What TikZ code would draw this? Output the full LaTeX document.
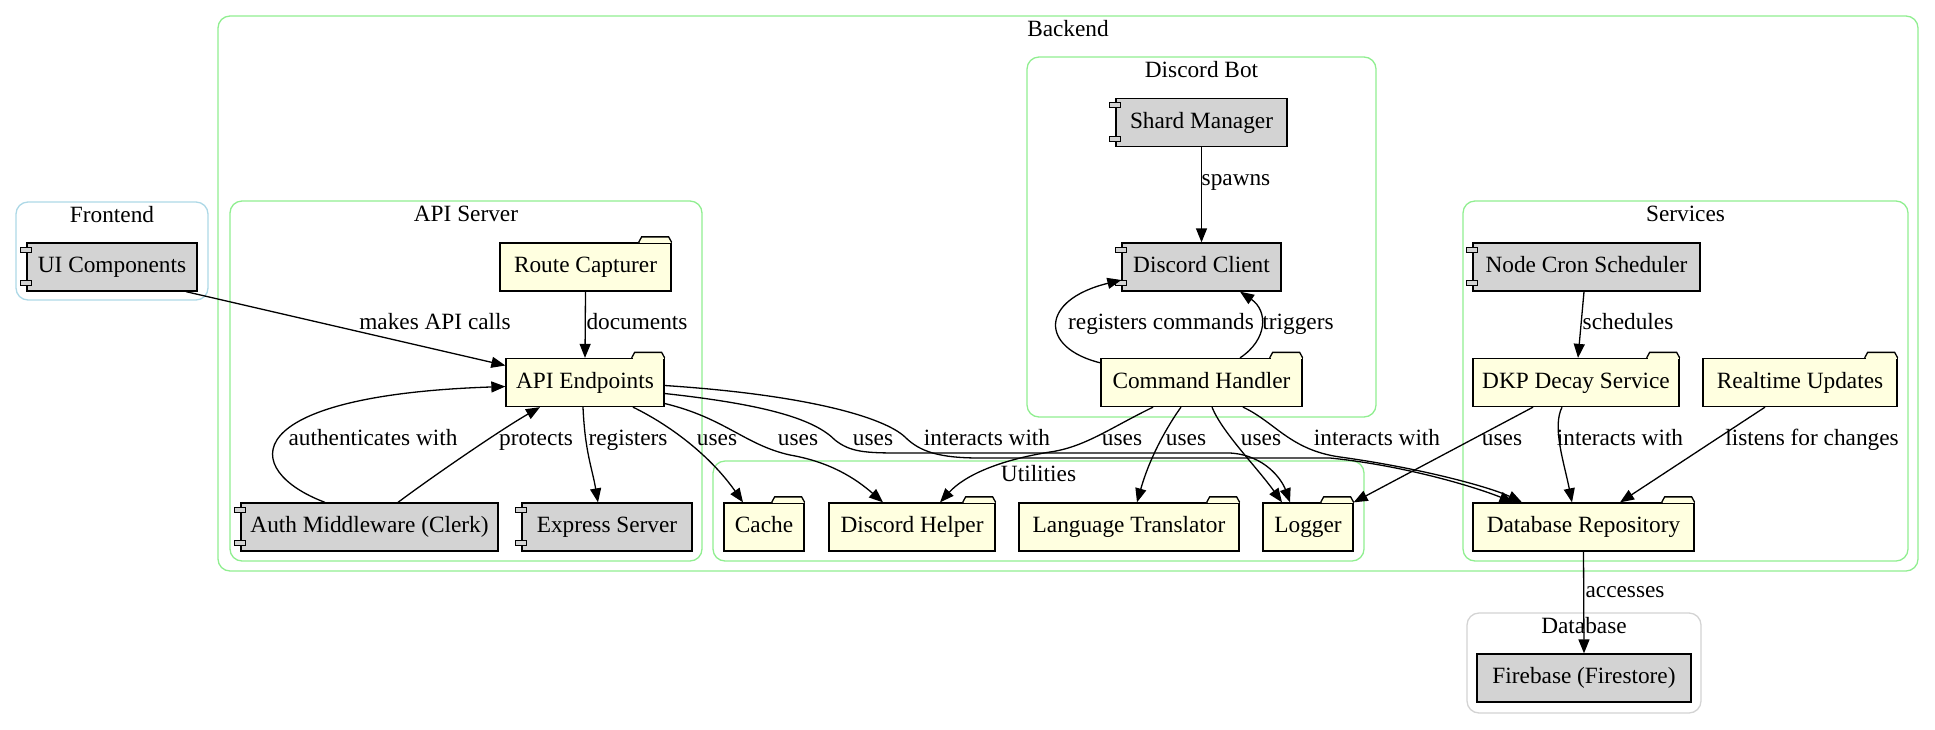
\documentclass[tikz,border=0pt]{standalone}
\usepackage{fontspec}
\setmainfont{Liberation Serif}
\usetikzlibrary{arrows.meta,fit}
\definecolor{compgray}{HTML}{D3D3D3}
\definecolor{foldyellow}{HTML}{FFFFE0}
\definecolor{clgreen}{HTML}{90EE90}
\definecolor{clblue}{HTML}{ADD8E6}
\definecolor{clgray}{HTML}{D3D3D3}
\newcommand{\dfont}{\fontsize{23.3pt}{28pt}\selectfont}
\newcommand{\comptabs}[1]{%
  \draw[tabline,fill=compgray] ([xshift=-5.5pt,yshift=-5pt]#1.north west) rectangle ++(11pt,-5pt);
  \draw[tabline,fill=compgray] ([xshift=-5.5pt,yshift=6pt]#1.south west) rectangle ++(11pt,5pt);}
\newcommand{\foldtab}[1]{%
  \fill[foldyellow] ([xshift=-32pt,yshift=-1pt]#1.north east) rectangle ([xshift=-1pt,yshift=1pt]#1.north east);
  \filldraw[line width=1.3pt,fill=foldyellow] ([xshift=-33pt]#1.north east) -- ++(3pt,5.5pt) -- ++(27pt,0pt) -- ++(3pt,-5.5pt);}

\begin{document}
\begin{tikzpicture}[x=1pt,y=-1pt,
  box/.style={draw,line width=1.3pt,inner sep=0pt,minimum height=48pt,text height=16pt,text depth=5pt,font=\dfont},
  comp/.style={box,fill=compgray},
  fold/.style={box,fill=foldyellow},
  cluster/.style={draw=#1,line width=1.3pt,rounded corners=12pt,inner sep=0pt},
  clustertitle/.style={below,inner sep=5pt,text height=16pt,text depth=5pt,font=\dfont},
  lbl/.style={inner sep=0pt,text height=16pt,text depth=5pt,font=\dfont},
  tabline/.style={line width=1.1pt},
  link/.style={line width=1.3pt,-{Triangle[length=14pt,width=11pt]}}]
            \useasboundingbox (0,0) rectangle (1935,729);

            \node[cluster=clblue,fit={(16,202) (208,300)}] (frontend) {};
            \node[cluster=clgreen,fit={(218,16) (1918,571)}] (backend) {};
            \node[cluster=clgreen,fit={(230,201) (702,561)}] (apiserver) {};
            \node[cluster=clgreen,fit={(1027,57) (1376,417)}] (discordbot) {};
            \node[cluster=clgreen,fit={(1463,201) (1908,561)}] (services) {};
            \node[cluster=clgreen,fit={(713,461) (1364,561)}] (utilities) {};
            \node[cluster=clgray,fit={(1467,613) (1701,713)}] (database) {};

            \node[clustertitle] (frontendtitle) at (frontend.north) {Frontend};
            \node[clustertitle] (backendtitle) at (backend.north) {Backend};
            \node[clustertitle] (apiservertitle) at (apiserver.north) {API Server};
            \node[clustertitle] (discordbottitle) at (discordbot.north) {Discord Bot};
            \node[clustertitle] (servicestitle) at (services.north) {Services};
            \node[clustertitle] (utilitiestitle) at (utilities.north) {Utilities};
            \node[clustertitle] (databasetitle) at (database.north) {Database};

            \node[comp,minimum width=170pt] (ui) at (112,267) {UI Components};
            \node[fold,minimum width=171pt] (route) at (585.5,267) {Route Capturer};
            \node[fold,minimum width=158pt] (api) at (585,382.5) {API Endpoints};
            \node[comp,minimum width=257pt] (auth) at (369.5,527) {Auth Middleware (Clerk)};
            \node[comp,minimum width=170pt] (express) at (607,527) {Express Server};
            \node[comp,minimum width=171pt] (shard) at (1201.5,122.5) {Shard Manager};
            \node[comp,minimum width=159pt] (client) at (1201.5,267) {Discord Client};
            \node[fold,minimum width=201pt] (handler) at (1201.5,382.5) {Command Handler};
            \node[comp,minimum width=227pt] (cron) at (1586.5,267) {Node Cron Scheduler};
            \node[fold,minimum width=206pt] (decay) at (1576,382.5) {DKP Decay Service};
            \node[fold,minimum width=194pt] (realtime) at (1800,382.5) {Realtime Updates};
            \node[fold,minimum width=221pt] (repo) at (1583.5,527) {Database Repository};
            \node[fold,minimum width=80pt] (cache) at (764,527) {Cache};
            \node[fold,minimum width=166pt] (helper) at (912,527) {Discord Helper};
            \node[fold,minimum width=220pt] (translator) at (1129,527) {Language Translator};
            \node[fold,minimum width=90pt] (logger) at (1308,527) {Logger};
            \node[box,fill=compgray,minimum width=214pt] (firebase) at (1584,678) {Firebase (Firestore)};

            \comptabs{ui}\comptabs{auth}\comptabs{express}\comptabs{shard}\comptabs{client}\comptabs{cron}
            \foldtab{route}\foldtab{api}\foldtab{handler}\foldtab{decay}\foldtab{realtime}\foldtab{repo}
            \foldtab{cache}\foldtab{helper}\foldtab{translator}\foldtab{logger}

            \draw[link] ([xshift=74pt]ui.south) -- ([yshift=17pt]api.west);
            \draw[link] (route.south) -- (api.north);
            \draw[link] ([xshift=-44.5pt]auth.north) .. controls +(-85,-32) and +(-271,9) .. ([yshift=-4pt]api.west);
            \draw[link] ([xshift=28.5pt]auth.north) .. controls +(32,-24) and +(-40,23) .. ([xshift=-45pt]api.south);
            \draw[link] ([xshift=-2pt]api.south) .. controls +(2,45) and +(-6,-35) .. ([xshift=-9pt]express.north);
            \draw[link] ([xshift=48pt]api.south) .. controls +(37,18) and +(-33,-47) .. ([xshift=-21pt]cache.north);
            \draw[link] ([yshift=-21pt]api.east) .. controls (725,418) and (745,445) .. (790,455) .. controls (830,462) and (855,478) .. ([xshift=-29pt]helper.north);
            \draw[link] ([yshift=-11pt]api.east) .. controls (770,405) and (815,420) .. (835,440) .. controls (850,452) and (865,453) .. (900,453) -- (1230,453) .. controls (1265,455) and (1282,480) .. ([xshift=-18pt]logger.north);
            \draw[link] ([yshift=-3pt]api.east) .. controls (810,395) and (885,418) .. (905,437) .. controls (920,452) and (940,458) .. (980,458) -- (1330,458) .. controls (1400,465) and (1470,485) .. ([xshift=-70pt]repo.north);
            \draw[link] (shard.south) -- (client.north);
            \draw[link] ([yshift=-5pt]handler.north west) .. controls +(-61,-15) and +(-82,20) .. ([yshift=-13pt]client.west);
            \draw[link] ([xshift=38.5pt]handler.north) .. controls +(28,-18.5) and +(28,19) .. ([xshift=38.5pt]client.south);
            \draw[link] ([xshift=-48.5pt]handler.south) .. controls (1110,428) and (1085,447) .. (1050,452) .. controls (1000,460) and (965,475) .. ([xshift=28pt]helper.north);
            \draw[link] ([xshift=-20.5pt]handler.south) .. controls +(-13,18) and +(13,-46) .. ([xshift=8pt]translator.north);
            \draw[link] ([xshift=10.5pt]handler.south) .. controls +(10,25) and +(-25,-35) .. ([xshift=-26pt]logger.north);
            \draw[link] ([xshift=41.5pt]handler.south) .. controls (1275,422) and (1290,450) .. (1340,457) .. controls (1420,468) and (1490,487) .. ([xshift=-61.5pt]repo.north);
            \draw[link] ([xshift=-2.5pt]cron.south) -- ([xshift=2pt]decay.north);
            \draw[link] ([xshift=-43pt]decay.south) -- (logger.north east);
            \draw[link] ([xshift=-14pt]decay.south) .. controls +(-10,20) and +(-8,-40) .. ([xshift=-11.5pt]repo.north);
            \draw[link] ([xshift=-35pt]realtime.south) -- ([xshift=36.5pt]repo.north);
            \draw[link] (repo.south) -- (firebase.north);

            \node[lbl] (lmakes) at (435,324) {makes API calls};
            \node[lbl] (ldocuments) at (637,324) {documents};
            \node[lbl] (lauth) at (373,440) {authenticates with};
            \node[lbl] (lprotects) at (536,440) {protects};
            \node[lbl] (lregisters) at (628,440) {registers};
            \node[lbl] (lusescache) at (717,440) {uses};
            \node[lbl] (luseshelper) at (798,440) {uses};
            \node[lbl] (luseslogger) at (873,440) {uses};
            \node[lbl] (linteracts) at (987,440) {interacts with};
            \node[lbl] (lspawns) at (1236,180) {spawns};
            \node[lbl] (lregcmd) at (1161,324) {registers commands};
            \node[lbl] (ltriggers) at (1298,324) {triggers};
            \node[lbl] (lchhelper) at (1122,440) {uses};
            \node[lbl] (lchtrans) at (1186,440) {uses};
            \node[lbl] (lchlogger) at (1261,440) {uses};
            \node[lbl] (lchrepo) at (1377,440) {interacts with};
            \node[lbl] (lschedules) at (1628,324) {schedules};
            \node[lbl] (ldecaylogger) at (1502,440) {uses};
            \node[lbl] (ldecayrepo) at (1620,440) {interacts with};
            \node[lbl] (llistens) at (1812,440) {listens for changes};
            \node[lbl] (laccesses) at (1625,592) {accesses};
          \end{tikzpicture}
\end{document}
